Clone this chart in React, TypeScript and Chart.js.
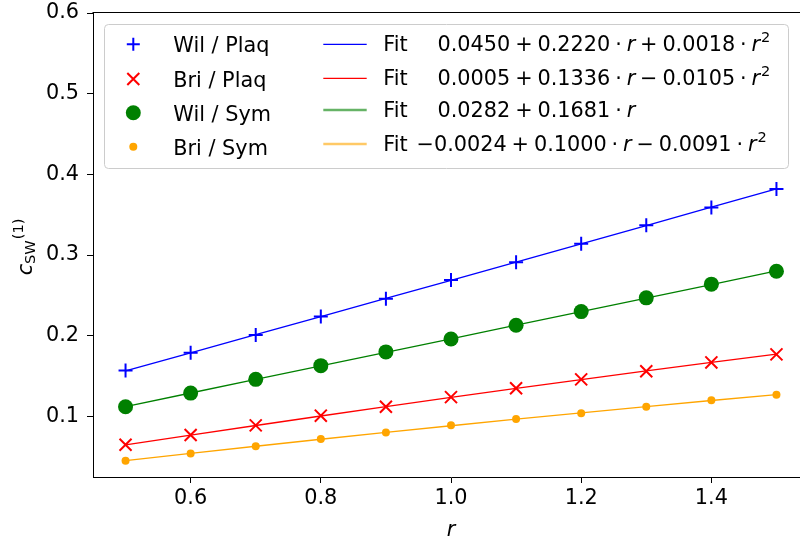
import React, { useEffect, useRef } from 'react';
import { Chart, registerables } from 'chart.js';

Chart.register(...registerables);

// ---- data ----
const rValues = [0.5, 0.6, 0.7, 0.8, 0.9, 1.0, 1.1, 1.2, 1.3, 1.4, 1.5];
const wilPlaq = [0.157, 0.179, 0.201, 0.224, 0.246, 0.269, 0.291, 0.314, 0.337, 0.359, 0.382];
const briPlaq = [0.065, 0.077, 0.089, 0.101, 0.112, 0.124, 0.135, 0.146, 0.156, 0.167, 0.177];
const wilSym = [0.112, 0.129, 0.146, 0.163, 0.180, 0.196, 0.213, 0.230, 0.247, 0.264, 0.280];
const briSym = [0.045, 0.054, 0.063, 0.072, 0.080, 0.089, 0.097, 0.104, 0.112, 0.120, 0.127];

const fitWilPlaq = [0.1565, 0.1789, 0.2013, 0.2238, 0.2463, 0.2688, 0.2914, 0.3140, 0.3366, 0.3593, 0.3821];
const fitBriPlaq = [0.0647, 0.0769, 0.0888, 0.1006, 0.1122, 0.1236, 0.1348, 0.1457, 0.1564, 0.1670, 0.1773];
const fitWilSym = [0.1123, 0.1291, 0.1459, 0.1627, 0.1795, 0.1963, 0.2131, 0.2299, 0.2467, 0.2635, 0.2804];
const fitBriSym = [0.0453, 0.0543, 0.0631, 0.0718, 0.0802, 0.0885, 0.0966, 0.1045, 0.1122, 0.1198, 0.1271];

const seriesLabels = ['Wil / Plaq', 'Bri / Plaq', 'Wil / Sym', 'Bri / Sym'];
const fitFormulas = [
  '0.0450 + 0.2220 · r + 0.0018 · r^2',
  '0.0005 + 0.1336 · r − 0.0105 · r^2',
  '0.0282 + 0.1681 · r',
  '−0.0024 + 0.1000 · r − 0.0091 · r^2',
];
const xTicks = [0.6, 0.8, 1.0, 1.2, 1.4];
const yTicks = [0.1, 0.2, 0.3, 0.4, 0.5, 0.6];

const COLORS = ['#0000ff', '#ff0000', '#008000', '#ffa500'];
const FONT = '"DejaVu Sans", sans-serif';
const FS = 20.8;

function drawFormula(ctx: CanvasRenderingContext2D, str: string, x: number, y: number, size: number) {
  const tokens = str.split(' ');
  let cx = x;
  const gap = size * 0.235;
  const up = `${size}px ${FONT}`;
  const it = `italic ${size}px ${FONT}`;
  const sm = `${size * 0.7}px ${FONT}`;
  for (const tok of tokens) {
    if (tok === '+' || tok === '−' || tok === '·') {
      cx += gap;
      ctx.font = up;
      ctx.fillText(tok, cx, y);
      cx += ctx.measureText(tok).width + gap;
    } else if (tok.startsWith('r')) {
      ctx.font = it;
      ctx.fillText('r', cx, y);
      cx += ctx.measureText('r').width;
      if (tok.includes('^')) {
        const sup = tok.split('^')[1];
        ctx.font = sm;
        cx += 1;
        ctx.fillText(sup, cx, y - size * 0.42);
        cx += ctx.measureText(sup).width;
      }
    } else {
      ctx.font = up;
      ctx.fillText(tok, cx, y);
      cx += ctx.measureText(tok).width;
    }
  }
}

function drawMarker(ctx: CanvasRenderingContext2D, i: number, x: number, y: number) {
  ctx.save();
  ctx.strokeStyle = COLORS[i];
  ctx.fillStyle = COLORS[i];
  ctx.lineWidth = 2;
  ctx.beginPath();
  if (i === 0) {
    ctx.moveTo(x - 6.5, y); ctx.lineTo(x + 6.5, y);
    ctx.moveTo(x, y - 6.5); ctx.lineTo(x, y + 6.5);
    ctx.stroke();
  } else if (i === 1) {
    ctx.moveTo(x - 6, y - 6); ctx.lineTo(x + 6, y + 6);
    ctx.moveTo(x - 6, y + 6); ctx.lineTo(x + 6, y - 6);
    ctx.stroke();
  } else if (i === 2) {
    ctx.arc(x, y, 7.5, 0, Math.PI * 2);
    ctx.fill();
  } else {
    ctx.arc(x, y, 4, 0, Math.PI * 2);
    ctx.fill();
  }
  ctx.restore();
}

const overlayPlugin = {
  id: 'overlay',
  afterDraw(chart: any) {
    const ctx: CanvasRenderingContext2D = chart.ctx;
    const a = chart.chartArea;
    ctx.save();
    // spines
    ctx.strokeStyle = '#000';
    ctx.lineWidth = 1;
    ctx.beginPath();
    ctx.moveTo(Math.round(a.left) - 0.5, Math.round(a.top) - 0.5);
    ctx.lineTo(Math.round(a.right) + 0.5, Math.round(a.top) - 0.5);
    ctx.lineTo(Math.round(a.right) + 0.5, Math.round(a.bottom) + 0.5);
    ctx.stroke();

    // legend box
    const bx = 104.5, by = 24.5, bw = 684, bh = 144, rr = 4;
    ctx.beginPath();
    ctx.moveTo(bx + rr, by);
    ctx.lineTo(bx + bw - rr, by);
    ctx.quadraticCurveTo(bx + bw, by, bx + bw, by + rr);
    ctx.lineTo(bx + bw, by + bh - rr);
    ctx.quadraticCurveTo(bx + bw, by + bh, bx + bw - rr, by + bh);
    ctx.lineTo(bx + rr, by + bh);
    ctx.quadraticCurveTo(bx, by + bh, bx, by + bh - rr);
    ctx.lineTo(bx, by + rr);
    ctx.quadraticCurveTo(bx, by, bx + rr, by);
    ctx.closePath();
    ctx.fillStyle = 'rgba(255,255,255,0.8)';
    ctx.fill();
    ctx.strokeStyle = '#cccccc';
    ctx.stroke();

    const markerY = [44.3, 79, 112.7, 146.7];
    const textY = [52, 86.5, 120.5, 154.5];
    const handleY = [44.3, 78.3, 110, 144];
    const fitY = [50.5, 84.5, 116.5, 150.5];
    ctx.fillStyle = '#000';
    ctx.textBaseline = 'alphabetic';
    ctx.textAlign = 'left';
    for (let i = 0; i < 4; i++) {
      drawMarker(ctx, i, 133.3, markerY[i]);
      ctx.fillStyle = '#000';
      ctx.font = `${FS}px ${FONT}`;
      ctx.fillText(seriesLabels[i], 173.3, textY[i]);

      ctx.save();
      ctx.strokeStyle = COLORS[i];
      ctx.lineWidth = i >= 2 ? 2.5 : 1.3;
      ctx.globalAlpha = i >= 2 ? 0.6 : 1;
      ctx.beginPath();
      ctx.moveTo(323.3, handleY[i]);
      ctx.lineTo(366.7, handleY[i]);
      ctx.stroke();
      ctx.restore();

      ctx.fillStyle = '#000';
      ctx.font = `${FS}px ${FONT}`;
      ctx.fillText('Fit', 383.3, fitY[i]);
      const f = fitFormulas[i];
      drawFormula(ctx, f, f.startsWith('−') ? 416.5 : 437.5, fitY[i], FS);
    }

    // y axis title c_SW^(1)
    ctx.save();
    ctx.translate(32, 247);
    ctx.rotate(-Math.PI / 2);
    ctx.fillStyle = '#000';
    ctx.font = `italic ${FS}px ${FONT}`;
    const cw = ctx.measureText('c').width;
    ctx.font = `${FS * 0.7}px ${FONT}`;
    const sw = ctx.measureText('SW').width;
    const pw = ctx.measureText('(1)').width;
    const total = cw + sw + pw + 1;
    let tx = -total / 2;
    ctx.font = `italic ${FS}px ${FONT}`;
    ctx.fillText('c', tx, 0);
    tx += cw;
    ctx.font = `${FS * 0.7}px ${FONT}`;
    ctx.fillText('SW', tx, 3);
    tx += sw + 1;
    ctx.fillText('(1)', tx, -9);
    ctx.restore();

    // x axis title
    ctx.font = `italic ${FS}px ${FONT}`;
    ctx.textAlign = 'center';
    ctx.fillStyle = '#000';
    ctx.fillText('r', (a.left + a.right) / 2, 536);
    ctx.restore();
  },
};

export default function App() {
  const ref = useRef<HTMLCanvasElement>(null);
  useEffect(() => {
    if (!ref.current) return;
    const pts = (arr: number[]) => rValues.map((x, i) => ({ x, y: arr[i] }));
    const fits = [fitWilPlaq, fitBriPlaq, fitWilSym, fitBriSym];
    const series = [wilPlaq, briPlaq, wilSym, briSym];
    const styles = [
      { pointStyle: 'cross', pointRadius: 7, borderWidth: 2 },
      { pointStyle: 'crossRot', pointRadius: 8.5, borderWidth: 2 },
      { pointStyle: 'circle', pointRadius: 7.5, borderWidth: 0 },
      { pointStyle: 'circle', pointRadius: 4, borderWidth: 0 },
    ];
    const datasets: any[] = [];
    series.forEach((s, i) => {
      datasets.push({
        label: seriesLabels[i],
        data: pts(s),
        showLine: false,
        backgroundColor: COLORS[i],
        borderColor: COLORS[i],
        pointBorderColor: COLORS[i],
        pointBackgroundColor: COLORS[i],
        pointStyle: styles[i].pointStyle,
        pointRadius: styles[i].pointRadius,
        pointBorderWidth: styles[i].borderWidth,
        order: 2,
      });
    });
    fits.forEach((f, i) => {
      datasets.push({
        label: 'Fit ' + fitFormulas[i],
        data: pts(f),
        showLine: true,
        borderColor: COLORS[i],
        borderWidth: 1.3,
        pointRadius: 0,
        fill: false,
        order: 1,
      });
    });
    const chart = new Chart(ref.current, {
      type: 'scatter',
      data: { datasets },
      plugins: [overlayPlugin],
      options: {
        animation: false,
        responsive: false,
        devicePixelRatio: 1,
        layout: { padding: { left: 0, top: 13, right: 11, bottom: 0 } },
        plugins: { legend: { display: false }, tooltip: { enabled: false } },
        scales: {
          x: {
            type: 'linear',
            min: 0.45,
            max: 1.55,
            afterBuildTicks: (s: any) => { s.ticks = xTicks.map((v) => ({ value: v })); },
            afterFit: (s: any) => { s.height = 63; s.paddingLeft = 0; s.paddingRight = 0; },
            grid: { display: true, drawOnChartArea: false, drawTicks: true, tickLength: 6, color: '#000', tickWidth: 1 },
            border: { display: true, color: '#000', width: 1 },
            ticks: {
              color: '#000',
              font: { family: FONT, size: FS },
              padding: 3,
              maxRotation: 0,
              callback: (v: any) => Number(v).toFixed(1),
            },
          },
          y: {
            type: 'linear',
            min: 0.025,
            max: 0.6,
            afterBuildTicks: (s: any) => { s.ticks = yTicks.map((v) => ({ value: v })); },
            afterFit: (s: any) => { s.width = 93; s.paddingTop = 0; s.paddingBottom = 0; },
            grid: { display: true, drawOnChartArea: false, drawTicks: true, tickLength: 6, color: '#000', tickWidth: 1 },
            border: { display: true, color: '#000', width: 1 },
            ticks: {
              color: '#000',
              font: { family: FONT, size: FS },
              padding: 8,
              callback: (v: any) => Number(v).toFixed(1),
            },
          },
        },
      } as any,
    });
    return () => chart.destroy();
  }, []);
  return (
    <div style={{ position: 'absolute', left: 0, top: 0, width: 800, height: 540, overflow: 'hidden', background: '#fff' }}>
      <canvas ref={ref} width={820} height={540} style={{ width: 820, height: 540, display: 'block' }} />
    </div>
  );
}
